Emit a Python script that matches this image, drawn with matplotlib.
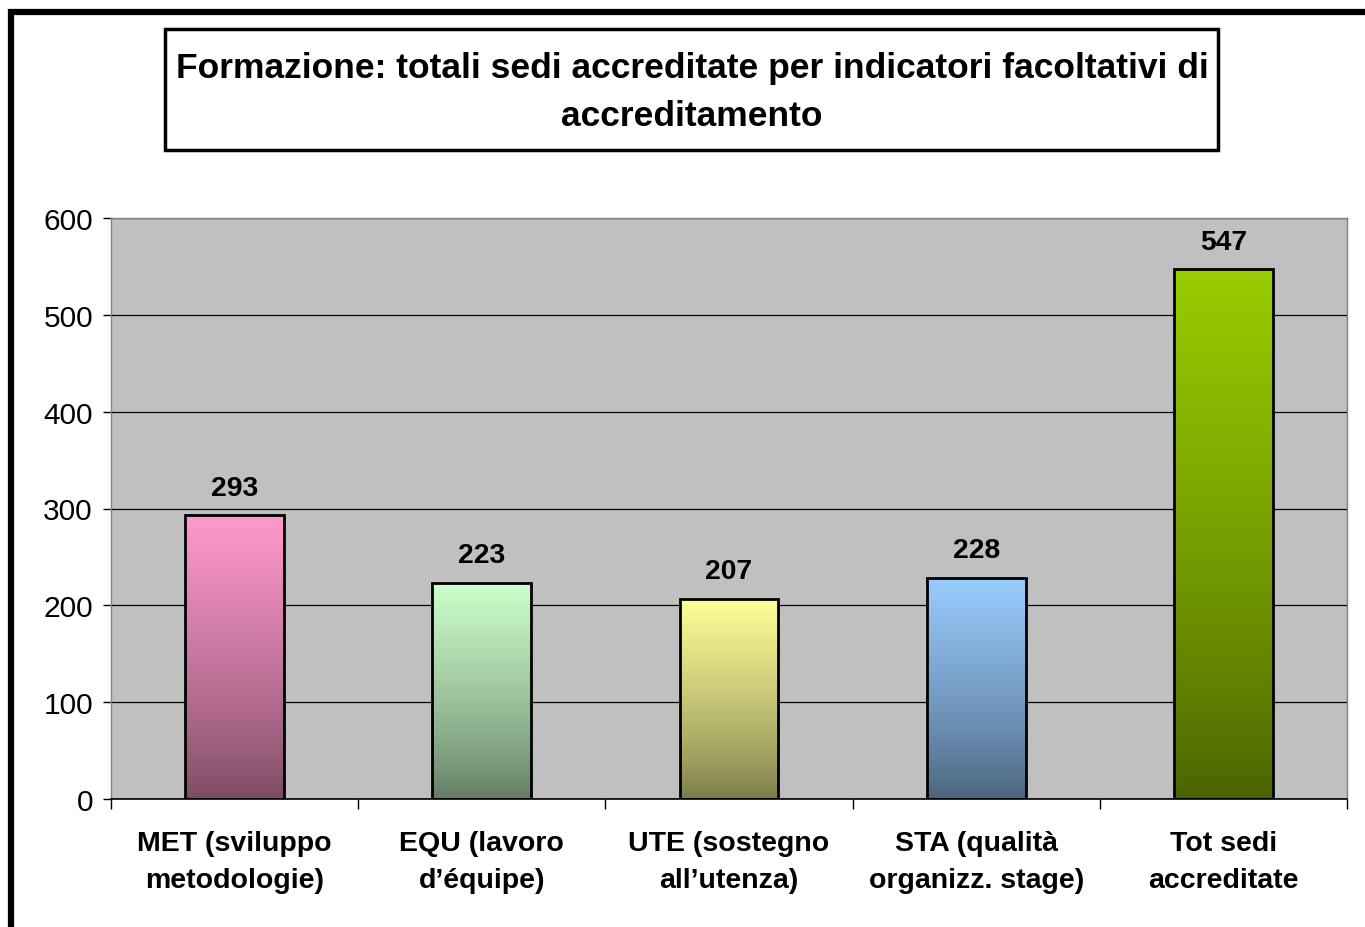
import numpy as np
import matplotlib
matplotlib.use("Agg")
import matplotlib.pyplot as plt
from matplotlib.patches import Rectangle
from matplotlib.colors import to_rgb

plt.rcParams['font.family'] = ['Liberation Sans', 'DejaVu Sans']

categories = ["MET (sviluppo\nmetodologie)", "EQU (lavoro\nd\u2019\u00e9quipe)",
              "UTE (sostegno\nall\u2019utenza)", "STA (qualit\u00e0\norganizz. stage)",
              "Tot sedi\naccreditate"]
values = [293, 223, 207, 228, 547]
top_colors = ["#FF99CC", "#CCFFCC", "#FFFF99", "#99CCFF", "#99CC00"]
title = "Formazione: totali sedi accreditate per indicatori facoltativi di\naccreditamento"
yticks = [0, 100, 200, 300, 400, 500, 600]

W, H = 1365, 928
fig = plt.figure(figsize=(W / 100, H / 100), dpi=100)
fig.patch.set_facecolor("white")

# outer frame (extends beyond right/bottom edges)
fig.patches.append(Rectangle((11 / W, -0.2), 1.5, 0.2 + (H - 13) / H, transform=fig.transFigure,
                             fill=False, edgecolor="black", linewidth=4.5, zorder=0))

ax = fig.add_axes([111 / W, (H - 800) / H, (1347 - 111) / W, (800 - 219) / H])
ax.set_facecolor("#C0C0C0")

x = np.arange(len(values))
bars = ax.bar(x, values, width=0.4, facecolor="none", edgecolor="black", linewidth=2, zorder=3)

for b, c in zip(bars, top_colors):
    top = np.array(to_rgb(c))
    bot = top * 0.48
    t = np.linspace(0, 1, 256)[:, None] ** 0.8
    grad = (bot[None, :] * (1 - t) + top[None, :] * t)
    grad = grad[::-1][:, None, :]
    ax.imshow(grad, extent=[b.get_x(), b.get_x() + b.get_width(), 0, b.get_height()],
              aspect="auto", zorder=2, interpolation="bilinear")
ax.set_xlim(-0.5, len(values) - 0.5)
ax.set_ylim(0, 600)

for xi, v in zip(x, values):
    ax.annotate(str(v), (xi, v), xytext=(0, 20), textcoords="offset points",
                ha="center", va="center", fontsize=20.3, fontweight="bold", zorder=4)

ax.set_yticks(yticks)
ax.set_yticklabels([str(t) for t in yticks], fontsize=21.5)
ax.yaxis.grid(True, color="black", linewidth=0.9, zorder=1)
ax.set_axisbelow(True)
ax.tick_params(axis="y", length=6, width=1, pad=7, color="black")

ax.set_xticks(x, minor=False)
ax.set_xticklabels(categories, fontsize=20.5, fontweight="bold", linespacing=1.58)
ax.tick_params(axis="x", which="major", length=0, pad=22)
ax.set_xticks(np.arange(-0.5, len(values)), minor=True)
ax.tick_params(axis="x", which="minor", length=7, width=1, color="black")

for s in ["top", "right", "left"]:
    ax.spines[s].set_color("#808080")
    ax.spines[s].set_linewidth(1)
ax.spines["bottom"].set_color("black")
ax.spines["bottom"].set_linewidth(1.2)

# title box
fig.patches.append(Rectangle((165 / W, (H - 151) / H), (1218 - 165) / W, (151 - 30) / H,
                             transform=fig.transFigure, fill=False, edgecolor="black",
                             linewidth=2.5, zorder=1))
fig.text(692 / W, (H - 92.5) / H, title, ha="center", va="center", fontsize=25.5,
         fontweight="bold", linespacing=1.57)

fig.savefig("out.png", dpi=100)
